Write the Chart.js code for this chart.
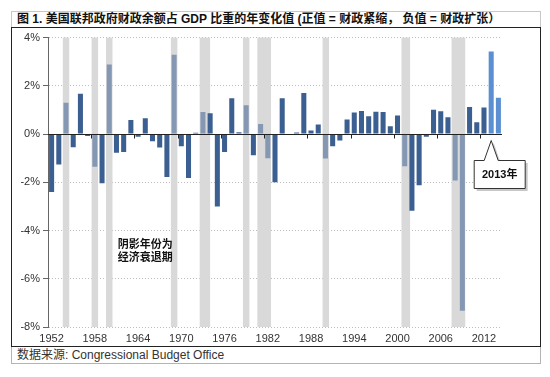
<!DOCTYPE html>
<html>
<head>
<meta charset="utf-8">
<script src="https://cdn.jsdelivr.net/npm/chart.js@4.4.0/dist/chart.umd.min.js"></script>
<style>
  body { margin: 0; width: 550px; height: 377px; background: #fff; position: relative; overflow: hidden;
         font-family: "Liberation Sans", Arial, "Noto Sans CJK SC", sans-serif; }
  #titulo { position: absolute; left: 11px; top: 11px; width: 530px; height: 16px; box-sizing: border-box;
            border: 1px solid #c8c8c8; border-bottom: none; padding-left: 5px;
            font-size: 12px; font-weight: bold; line-height: 15px; color: #111; white-space: nowrap; }
  #marco { position: absolute; left: 11px; top: 27px; width: 530px; height: 320px; box-sizing: border-box;
           border: 1px solid #222; }
  #grafico { position: absolute; left: 12px; top: 28px; width: 528px; height: 318px; }
  #fuente { position: absolute; left: 11px; top: 347px; width: 530px; height: 17px; box-sizing: border-box;
            border: 1px solid #b4b4b4; border-top: none; padding-left: 5px;
            font-size: 12px; line-height: 16px; color: #333; white-space: nowrap; }
</style>
</head>
<body>
<div id="titulo">图 1. 美国联邦政府财政余额占 GDP 比重的年变化值 (正值 = 财政紧缩， 负值 = 财政扩张）</div>
<div id="marco"></div>
<div id="grafico"><canvas id="cambio" width="528" height="318"></canvas></div>
<div id="fuente">数据来源: Congressional Budget Office</div>
<script>
/* ===================== DATOS ===================== */
const anios = Array.from({ length: 63 }, (_, i) => String(1952 + i));

const etiquetasX = ["1952", "1958", "1964", "1970", "1976", "1982", "1988", "1994", "2000", "2006", "2012"];
const etiquetasY = [4, 2, 0, -2, -4, -6, -8];

// cambio anual del saldo fiscal (% del PIB)
const cambioSaldo = [
  -2.40, -1.26, 1.30, -0.55, 1.67, -0.08, -1.36, -2.04, 2.88, -0.77,
  -0.74, 0.58, -0.11, 0.66, -0.30, -0.56, -1.78, 3.29, -0.51, -1.82,
  0.05, 0.92, 0.86, -3.00, -0.74, 1.48, 0.08, 1.20, -0.88, 0.42,
  -1.00, -2.00, 1.48, -0.04, 0.07, 1.70, 0.15, 0.40, -1.01, -0.51,
  -0.27, 0.60, 0.89, 0.96, 0.74, 0.93, 0.92, 0.32, 0.77, -1.33,
  -3.18, -2.12, -0.11, 1.01, 0.95, 0.70, -1.93, -7.33, 1.12, 0.49,
  1.10, 3.42, 1.51,
];

// recesiones (sombreado)
const recesionInicio = [1953.55, 1957.55, 1959.55, 1968.55, 1972.55, 1978.55, 1980.55, 1989.6, 2000.55, 2007.5];
const recesionFin = [1954.45, 1958.45, 1960.45, 1969.45, 1974.0, 1979.45, 1982.45, 1990.5, 2001.75, 2009.4];

const aniosRecesion = ["1954", "1958", "1960", "1969", "1973", "1979", "1981", "1982", "1990", "2001", "2008", "2009"];
const aniosDestacados = ["2013", "2014"];

const notaRecesion = ["阴影年份为", "经济衰退期"];
const notaAnio = "2013年";

/* ===================== COLORES ===================== */
function colorBarra(ctx) {
  const a = anios[ctx.dataIndex];
  if (aniosDestacados.includes(a)) return "#5b8fd2";
  if (aniosRecesion.includes(a)) return "#8497b3";
  return "#3b5f91";
}

/* ===================== PLUGINS ===================== */
const sombras = {
  id: "sombras",
  beforeDatasetsDraw(chart) {
    const { ctx, chartArea, scales: { x } } = chart;
    ctx.save();
    ctx.fillStyle = "#d9d9d9";
    recesionInicio.forEach((ini, i) => {
      const x1 = x.getPixelForValue(ini - 1952);
      const x2 = x.getPixelForValue(recesionFin[i] - 1952);
      ctx.fillRect(x1, chartArea.top, x2 - x1, chartArea.bottom - chartArea.top);
    });
    ctx.restore();
  },
};

const extras = {
  id: "extras",
  afterDatasetsDraw(chart) {
    const { ctx, chartArea, scales: { x, y } } = chart;
    const y0 = Math.round(y.getPixelForValue(0)) + 0.5;

    ctx.save();
    // linea del cero y marcas
    ctx.strokeStyle = "#222";
    ctx.lineWidth = 1;
    ctx.beginPath();
    ctx.moveTo(chartArea.left, y0);
    ctx.lineTo(chartArea.right, y0);
    etiquetasX.forEach((e) => {
      const i = anios.indexOf(e);
      if (i <= 0) return;
      const xm = Math.round((x.getPixelForValue(i - 1) + x.getPixelForValue(i)) / 2) + 0.5;
      ctx.moveTo(xm, y0);
      ctx.lineTo(xm, y0 + 4);
    });
    ctx.stroke();

    // nota recesion
    ctx.fillStyle = "#111";
    ctx.font = 'bold 11px "Noto Sans CJK SC", sans-serif';
    ctx.textAlign = "center";
    ctx.textBaseline = "middle";
    const xn = x.getPixelForValue(anios.indexOf("1965"));
    ctx.fillText(notaRecesion[0], xn, y.getPixelForValue(-4.53));
    ctx.fillText(notaRecesion[1], xn, y.getPixelForValue(-5.1));

    // llamada 2013
    const xb = x.getPixelForValue(anios.indexOf("2013"));
    const ay = y0 + 6;
    const bx = xb - 17, by = y0 + 26, bw = 51, bh = 28;
    const forma = (dx, dy) => {
      ctx.beginPath();
      ctx.moveTo(bx + dx, by + dy);
      ctx.lineTo(xb - 7 + dx, by + dy);
      ctx.lineTo(xb + dx, ay + dy);
      ctx.lineTo(xb + 7 + dx, by + dy);
      ctx.lineTo(bx + bw + dx, by + dy);
      ctx.lineTo(bx + bw + dx, by + bh + dy);
      ctx.lineTo(bx + dx, by + bh + dy);
      ctx.closePath();
    };
    ctx.fillStyle = "rgba(0,0,0,0.22)";
    forma(2.5, 2.5);
    ctx.fill();
    ctx.fillStyle = "#fff";
    ctx.strokeStyle = "#333";
    forma(0, 0);
    ctx.fill();
    ctx.stroke();
    ctx.fillStyle = "#111";
    ctx.font = 'bold 11px "Liberation Sans", "Noto Sans CJK SC", sans-serif';
    ctx.fillText(notaAnio, bx + bw / 2, by + bh / 2 + 0.5);
    ctx.restore();
  },
};

/* ===================== GRAFICO ===================== */
new Chart(document.getElementById("cambio"), {
  type: "bar",
  data: {
    labels: anios,
    datasets: [
      {
        data: cambioSaldo,
        backgroundColor: colorBarra,
        categoryPercentage: 1,
        barPercentage: 0.7,
      },
    ],
  },
  plugins: [sombras, extras],
  options: {
    responsive: false,
    animation: false,
    maintainAspectRatio: false,
    layout: { padding: { top: 7, right: 38, left: 0, bottom: 0 } },
    plugins: { legend: { display: false }, tooltip: { enabled: false } },
    scales: {
      x: {
        grid: { display: false, drawTicks: false },
        border: { display: false },
        ticks: {
          autoSkip: false,
          maxRotation: 0,
          padding: 5,
          color: "#333",
          font: { family: '"Liberation Sans", Arial', size: 11 },
          callback: (v, i) => (etiquetasX.includes(anios[i]) ? anios[i] : ""),
        },
        afterFit: (s) => { s.height = 19; },
      },
      y: {
        min: Math.min(...etiquetasY),
        max: Math.max(...etiquetasY),
        ticks: {
          stepSize: 2,
          padding: 3,
          color: "#333",
          font: { family: '"Liberation Sans", Arial', size: 11 },
          callback: (v) => v + "%",
        },
        grid: { color: "#bdbdbd", tickLength: 5, tickColor: "#666" },
        border: { display: true, color: "#666", dash: [1, 2] },
        afterFit: (s) => { s.width = 36; },
      },
    },
  },
});
</script>
</body>
</html>
